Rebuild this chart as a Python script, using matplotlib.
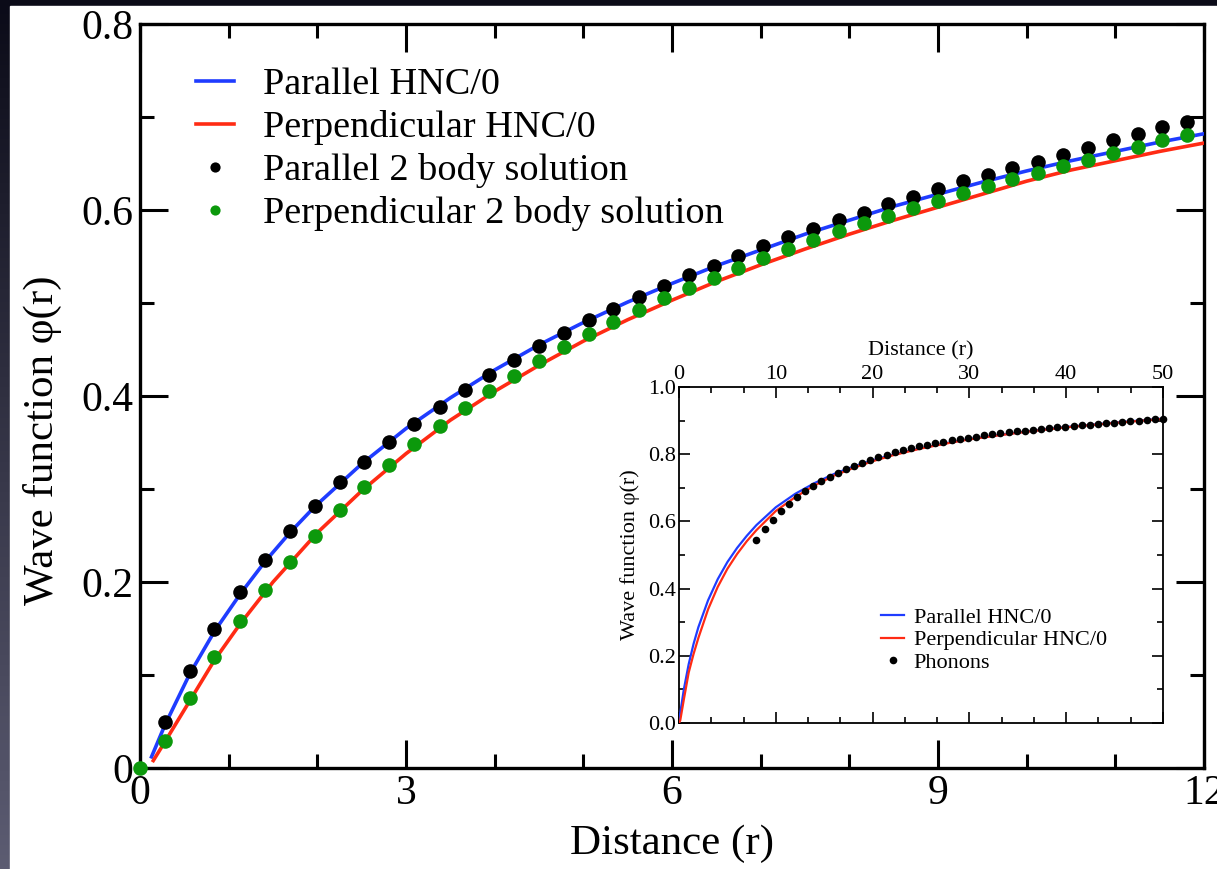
import numpy as np
import matplotlib
matplotlib.use("Agg")
import matplotlib.pyplot as plt
from matplotlib.ticker import MultipleLocator, FuncFormatter
from matplotlib.colors import LinearSegmentedColormap

plt.rcParams['font.family'] = ['Liberation Serif', 'DejaVu Serif']

# ---------------- data (main panel) ----------------
dot_x = [0.00, 0.28, 0.56, 0.84, 1.13, 1.41, 1.69, 1.97, 2.25, 2.53, 2.81, 3.09,
         3.38, 3.66, 3.94, 4.22, 4.50, 4.78, 5.06, 5.34, 5.63, 5.91, 6.19, 6.47,
         6.75, 7.03, 7.31, 7.59, 7.88, 8.16, 8.44, 8.72, 9.00, 9.28, 9.56, 9.84,
         10.13, 10.41, 10.69, 10.97, 11.25, 11.53, 11.81]

par_2body = [0.049, 0.104, 0.149, 0.189, 0.224, 0.255, 0.282, 0.307, 0.329, 0.351,
             0.370, 0.388, 0.406, 0.423, 0.439, 0.454, 0.468, 0.482, 0.494, 0.506,
             0.518, 0.530, 0.540, 0.551, 0.561, 0.571, 0.580, 0.589, 0.597, 0.606,
             0.614, 0.623, 0.631, 0.638, 0.645, 0.652, 0.659, 0.667, 0.675, 0.682,
             0.689, 0.695]

perp_2body = [0.000, 0.029, 0.075, 0.119, 0.158, 0.191, 0.221, 0.250, 0.277, 0.302,
              0.326, 0.348, 0.368, 0.387, 0.405, 0.422, 0.438, 0.453, 0.467, 0.480,
              0.493, 0.505, 0.516, 0.527, 0.538, 0.548, 0.558, 0.568, 0.577, 0.586,
              0.594, 0.602, 0.610, 0.618, 0.626, 0.633, 0.640, 0.647, 0.654, 0.661,
              0.668, 0.675, 0.681]

par_hnc_x = [0.13, 0.28, 0.56, 0.84, 1.13, 1.41, 1.69, 1.97, 2.5, 3.0, 3.5, 4.0,
             4.5, 5.0, 5.5, 6.0, 6.5, 7.0, 7.5, 8.0, 8.5, 9.0, 9.5, 10.0, 10.5,
             11.0, 11.5, 12.0]
par_hnc_y = [0.012, 0.046, 0.101, 0.147, 0.187, 0.222, 0.253, 0.281, 0.327, 0.365,
             0.398, 0.428, 0.455, 0.479, 0.501, 0.521, 0.540, 0.557, 0.574, 0.589,
             0.604, 0.617, 0.630, 0.642, 0.653, 0.663, 0.673, 0.682]

perp_hnc_x = [0.15, 0.28, 0.56, 0.84, 1.13, 1.5, 2.0, 2.5, 3.0, 3.5, 4.0, 4.5,
              5.0, 5.5, 6.0, 6.5, 7.0, 7.5, 8.0, 8.5, 9.0, 9.5, 10.0, 10.5,
              11.0, 11.5, 12.0]
perp_hnc_y = [0.008, 0.028, 0.072, 0.116, 0.155, 0.200, 0.253, 0.298, 0.338, 0.374,
              0.405, 0.433, 0.459, 0.482, 0.503, 0.523, 0.541, 0.558, 0.574, 0.589,
              0.603, 0.617, 0.631, 0.643, 0.653, 0.663, 0.672]

# ---------------- data (inset) ----------------
ins_x = [0.0, 0.13, 0.5, 1.0, 1.5, 2.0, 3.0, 4.0, 5.0, 6.0, 7.0, 8.0, 10.0, 12.0,
         14.0, 16.0, 18.0, 20.0, 22.0, 25.0, 28.0, 30.0, 33.0, 36.0, 40.0, 45.0, 50.0]
ins_par = [0.0, 0.03, 0.10, 0.175, 0.235, 0.285, 0.365, 0.428, 0.479, 0.521, 0.557,
           0.589, 0.642, 0.682, 0.714, 0.741, 0.763, 0.782, 0.798, 0.818, 0.835,
           0.845, 0.857, 0.868, 0.881, 0.894, 0.906]
ins_perp = [0.0, 0.008, 0.07, 0.150, 0.205, 0.253, 0.338, 0.405, 0.459, 0.503, 0.541,
            0.574, 0.631, 0.672, 0.707, 0.736, 0.759, 0.779, 0.796, 0.817, 0.834,
            0.844, 0.856, 0.867, 0.880, 0.893, 0.905]

phon_x = [8.00, 8.84, 9.68, 10.52, 11.36, 12.20, 13.04, 13.88, 14.72, 15.56, 16.40,
          17.24, 18.08, 18.92, 19.76, 20.60, 21.44, 22.28, 23.12, 23.96, 24.80,
          25.64, 26.48, 27.32, 28.16, 29.00, 29.84, 30.68, 31.52, 32.36, 33.20,
          34.04, 34.88, 35.72, 36.56, 37.40, 38.24, 39.08, 39.92, 40.76, 41.60,
          42.44, 43.28, 44.12, 44.96, 45.80, 46.64, 47.48, 48.32, 49.16, 50.00]
phon_y = [0.545, 0.578, 0.605, 0.630, 0.652, 0.672, 0.690, 0.706, 0.720, 0.733, 0.745,
          0.756, 0.766, 0.775, 0.784, 0.792, 0.799, 0.806, 0.812, 0.818, 0.823,
          0.828, 0.833, 0.837, 0.841, 0.845, 0.849, 0.852, 0.856, 0.859, 0.862,
          0.865, 0.868, 0.870, 0.873, 0.875, 0.878, 0.880, 0.882, 0.884, 0.886,
          0.888, 0.890, 0.892, 0.894, 0.896, 0.898, 0.900, 0.902, 0.904, 0.906]

main_xticks = [0, 3, 6, 9, 12]
main_yticks = [0, 0.2, 0.4, 0.6, 0.8]
main_ytick_labels = ['0', '0.2', '0.4', '0.6', '0.8']

BLUE = '#1f3cff'
RED = '#ff2b14'
GREEN = '#0c990c'

W, H = 1217, 869
fig = plt.figure(figsize=(W / 100, H / 100), dpi=100)

# background: dark gradient strip on the left/top, white page
bg = fig.add_axes([0, 0, 1, 1], zorder=-10)
grad = np.linspace(0, 1, 256).reshape(-1, 1)
cmap = LinearSegmentedColormap.from_list('bg', ['#5c5c72', '#0b0b18'])
bg.imshow(grad, aspect='auto', cmap=cmap, extent=[0, 1, 0, 1], origin='lower')
bg.add_patch(plt.Rectangle((10 / W, 0), 1, 1 - 6 / H, color='white', zorder=2))
bg.set_xlim(0, 1); bg.set_ylim(0, 1)
bg.axis('off')

# ---------------- main axes ----------------
ax = fig.add_axes([140 / W, (H - 768) / H, (1204 - 140) / W, (768 - 24) / H])
ax.plot(par_hnc_x, par_hnc_y, color=BLUE, lw=2.6, label='Parallel HNC/0', zorder=3)
ax.plot(perp_hnc_x, perp_hnc_y, color=RED, lw=2.6, label='Perpendicular HNC/0', zorder=3)
ax.plot(dot_x[1:], par_2body, 'o', color='black', ms=10.5, mec='none',
        label='Parallel 2 body solution', zorder=4, clip_on=False)
ax.plot(dot_x, perp_2body, 'o', color=GREEN, ms=10.5, mec='none',
        label='Perpendicular 2 body solution', zorder=5, clip_on=False)

ax.set_xlim(0, 12)
ax.set_ylim(0, 0.8)
ax.set_xticks(main_xticks)
ax.set_xticklabels([str(t) for t in main_xticks])
ax.set_yticks(main_yticks)
ax.set_yticklabels(main_ytick_labels)
ax.xaxis.set_minor_locator(MultipleLocator(1))
ax.yaxis.set_minor_locator(MultipleLocator(0.1))
ax.tick_params(which='both', direction='in', top=True, right=True, width=2.2,
               labelsize=30)
ax.tick_params(which='major', length=20, pad=5)
ax.tick_params(which='minor', length=10)
for s in ax.spines.values():
    s.set_linewidth(2.4)
ax.set_xlabel('Distance (r)', fontsize=31, labelpad=8)
ax.set_ylabel('Wave function φ(r)', fontsize=31)
ax.yaxis.set_label_coords(-0.073, 0.44)

ax.legend(loc='upper left', bbox_to_anchor=(0.038, 0.962), frameon=False,
          fontsize=27.5, handlelength=1.0, handletextpad=0.75,
          labelspacing=0.21, markerscale=0.7, borderaxespad=0)

# ---------------- inset axes ----------------
ins = fig.add_axes([679 / W, (H - 723) / H, (1163 - 679) / W, (723 - 387) / H])
ins.plot(ins_x, ins_par, color=BLUE, lw=1.6, label='Parallel HNC/0', zorder=3)
ins.plot(ins_x, ins_perp, color=RED, lw=1.6, label='Perpendicular HNC/0', zorder=3)
ins.plot(phon_x, phon_y, 'o', color='black', ms=5.5, mec='none', label='Phonons',
         zorder=4, clip_on=False)
ins.set_xlim(0, 50)
ins.set_ylim(0, 1.0)
ins.xaxis.set_major_locator(MultipleLocator(10))
ins.xaxis.set_minor_locator(MultipleLocator(10 / 3))
ins.yaxis.set_major_locator(MultipleLocator(0.2))
ins.yaxis.set_minor_locator(MultipleLocator(0.1))
ins.xaxis.set_major_formatter(FuncFormatter(lambda v, p: '%g' % v))
ins.yaxis.set_major_formatter(FuncFormatter(lambda v, p: '%.1f' % v))
ins.tick_params(which='both', direction='in', top=True, right=True, bottom=True,
                labelbottom=False, labeltop=True, width=1.2, labelsize=16)
ins.tick_params(which='major', length=8, pad=2)
ins.tick_params(which='minor', length=4.5)
for s in ins.spines.values():
    s.set_linewidth(1.3)
ins.xaxis.set_label_position('top')
ins.set_xlabel('Distance (r)', fontsize=16, labelpad=7)
ins.set_ylabel('Wave function φ(r)', fontsize=16, labelpad=6)
ins.legend(loc='upper left', bbox_to_anchor=(0.40, 0.37), frameon=False,
           fontsize=16, handlelength=1.0, handletextpad=0.45,
           labelspacing=0.08, borderaxespad=0)

fig.savefig('out.png', dpi=100)
